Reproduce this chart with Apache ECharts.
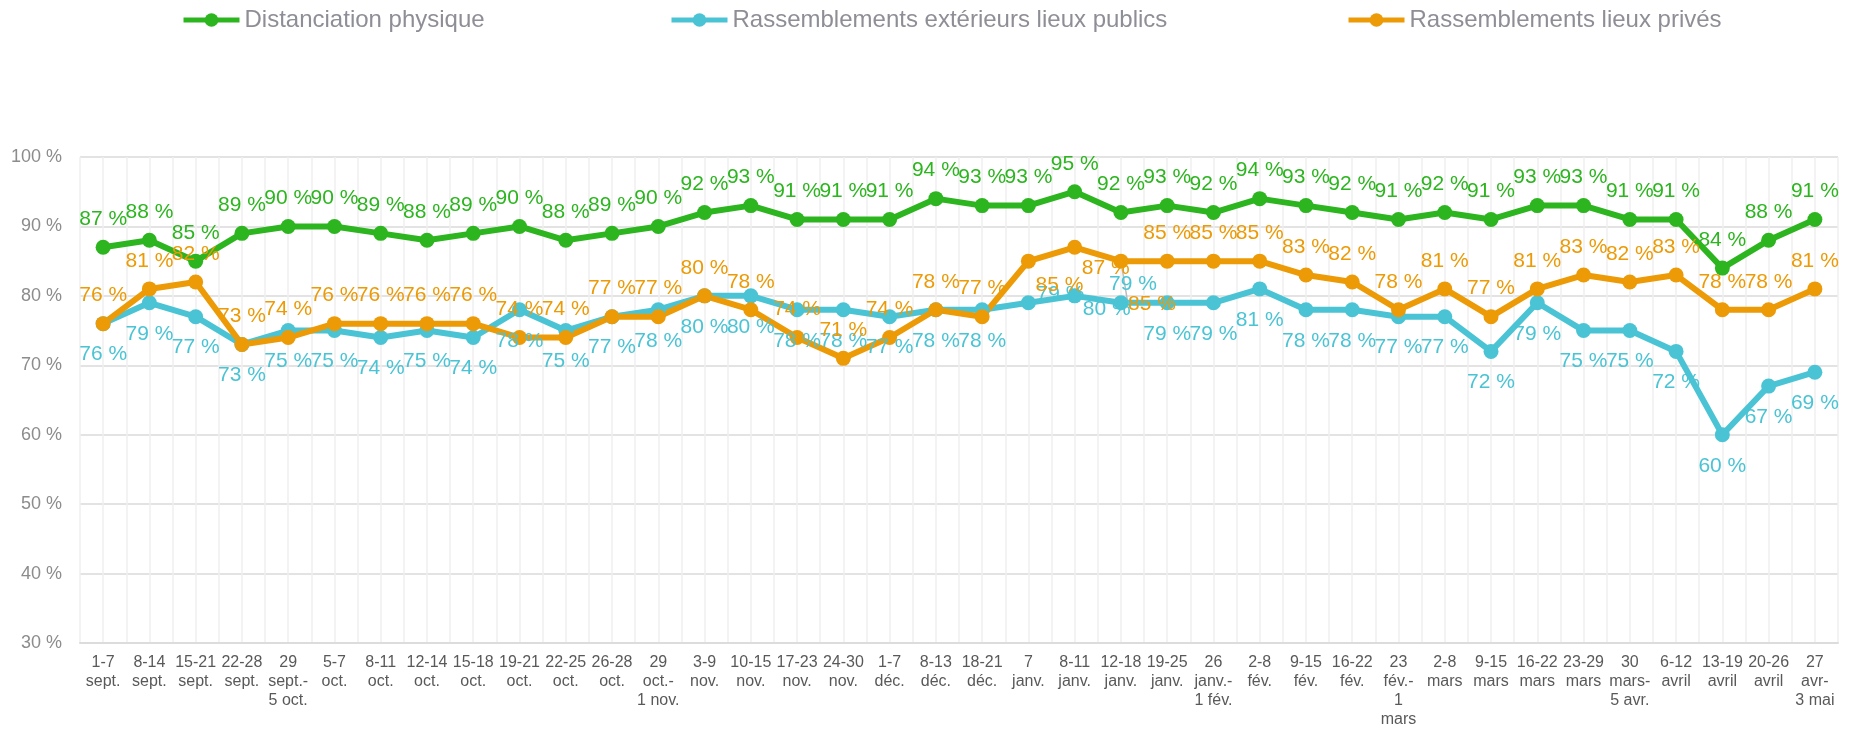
<!DOCTYPE html>
<html>
<head>
<meta charset="utf-8">
<script src="https://cdn.jsdelivr.net/npm/echarts@6/dist/echarts.min.js"></script>
<style>
html,body{margin:0;padding:0;background:#fff;}
#chart{width:1856px;height:729px;}
</style>
</head>
<body>
<div id="chart"></div>
<script>
const categories = [
  '1-7\nsept.', '8-14\nsept.', '15-21\nsept.', '22-28\nsept.', '29\nsept.-\n5 oct.',
  '5-7\noct.', '8-11\noct.', '12-14\noct.', '15-18\noct.', '19-21\noct.', '22-25\noct.',
  '26-28\noct.', '29\noct.-\n1 nov.', '3-9\nnov.', '10-15\nnov.', '17-23\nnov.', '24-30\nnov.',
  '1-7\ndéc.', '8-13\ndéc.', '18-21\ndéc.', '7\njanv.', '8-11\njanv.', '12-18\njanv.',
  '19-25\njanv.', '26\njanv.-\n1 fév.', '2-8\nfév.', '9-15\nfév.', '16-22\nfév.',
  '23\nfév.-\n1\nmars', '2-8\nmars', '9-15\nmars', '16-22\nmars', '23-29\nmars',
  '30\nmars-\n5 avr.', '6-12\navril', '13-19\navril', '20-26\navril', '27\navr-\n3 mai'
];
const seriesNames = ['Distanciation physique', 'Rassemblements extérieurs lieux publics', 'Rassemblements lieux privés'];
const distanciation = [87,88,85,89,90,90,89,88,89,90,88,89,90,92,93,91,91,91,94,93,93,95,92,93,92,94,93,92,91,92,91,93,93,91,91,84,88,91];
const exterieurs   = [76,79,77,73,75,75,74,75,74,78,75,77,78,80,80,78,78,77,78,78,79,80,79,79,79,81,78,78,77,77,72,79,75,75,72,60,67,69];
const prives       = [76,81,82,73,74,76,76,76,76,74,74,77,77,80,78,74,71,74,78,77,85,87,85,85,85,85,83,82,78,81,77,81,83,82,83,78,78,81];
const yTicks = [30,40,50,60,70,80,90,100];

const colors = ['#2cb51f', '#4ac4d4', '#ec9a06'];
const FONT = 'Liberation Sans, Arial, sans-serif';

// label displacements (seriesIndex -> dataIndex -> [dx, dy]) to mimic overlap handling
const labelMoves = {
  1: {20: [32, -40], 21: [32, -18], 22: [12, -50]},
  2: {20: [31, 52], 21: [31, 49], 22: [31, 71]}
};
const labelLineOn = {2: {22: true}};

function makeSeries(idx, values, pos) {
  return {
    name: seriesNames[idx],
    type: 'line',
    data: values.map((v, i) => {
      const d = {value: v};
      if (labelLineOn[idx] && labelLineOn[idx][i]) {
        d.labelLine = {show: true, lineStyle: {color: '#bdbdbd', width: 1.5}};
      }
      return d;
    }),
    symbol: 'circle',
    symbolSize: 15,
    showAllSymbol: true,
    lineStyle: {width: 6, color: colors[idx]},
    itemStyle: {color: colors[idx]},
    label: {
      show: true,
      position: pos,
      distance: pos === 'top' ? 10 : 13,
      formatter: '{c} %',
      color: colors[idx],
      fontSize: 21,
      fontFamily: FONT
    },
    labelLine: {show: false},
    labelLayout: function (p) {
      const m = labelMoves[idx] && labelMoves[idx][p.dataIndex];
      if (m) return {dx: m[0], dy: m[1]};
      return {};
    },
    emphasis: {disabled: true},
    animation: false
  };
}

function makeLegend(i, left) {
  return {
    data: [seriesNames[i]],
    left: left,
    top: 3,
    itemWidth: 56,
    itemHeight: 17,
    itemGap: 5,
    lineStyle: {width: 5},
    textStyle: {fontSize: 24, color: '#8e8e96', fontFamily: FONT},
    selectedMode: false
  };
}

const chart = echarts.init(document.getElementById('chart'), null, {renderer: 'canvas'});
chart.setOption({
  backgroundColor: '#ffffff',
  animation: false,
  legend: [makeLegend(0, 176), makeLegend(1, 664), makeLegend(2, 1341)],
  grid: {left: 80, right: 18, top: 157, bottom: 82, containLabel: false},
  xAxis: [
    {
      type: 'category',
      data: categories,
      boundaryGap: true,
      axisLine: {show: true, lineStyle: {color: '#dcdcdc', width: 2}},
      axisTick: {show: false},
      splitLine: {show: false},
      axisLabel: {
        interval: 0, margin: 10, color: '#595959', fontSize: 16,
        lineHeight: 19, fontFamily: FONT
      }
    },
    {
      type: 'value',
      position: 'top',
      min: -0.5, max: categories.length - 0.5, interval: 0.5,
      axisLine: {show: false}, axisTick: {show: false}, axisLabel: {show: false},
      splitLine: {show: true, lineStyle: {color: '#efefef', width: 1.5}}
    }
  ],
  yAxis: {
    type: 'value',
    min: yTicks[0], max: yTicks[yTicks.length - 1], interval: yTicks[1] - yTicks[0],
    axisLine: {show: false},
    axisTick: {show: false},
    splitLine: {show: true, lineStyle: {color: '#e3e3e3', width: 2}},
    axisLabel: {formatter: '{value} %', color: '#8c8c8c', fontSize: 18, margin: 18, fontFamily: FONT}
  },
  series: [
    makeSeries(0, distanciation, 'top'),
    makeSeries(1, exterieurs, 'bottom'),
    makeSeries(2, prives, 'top')
  ]
});
</script>
</body>
</html>
